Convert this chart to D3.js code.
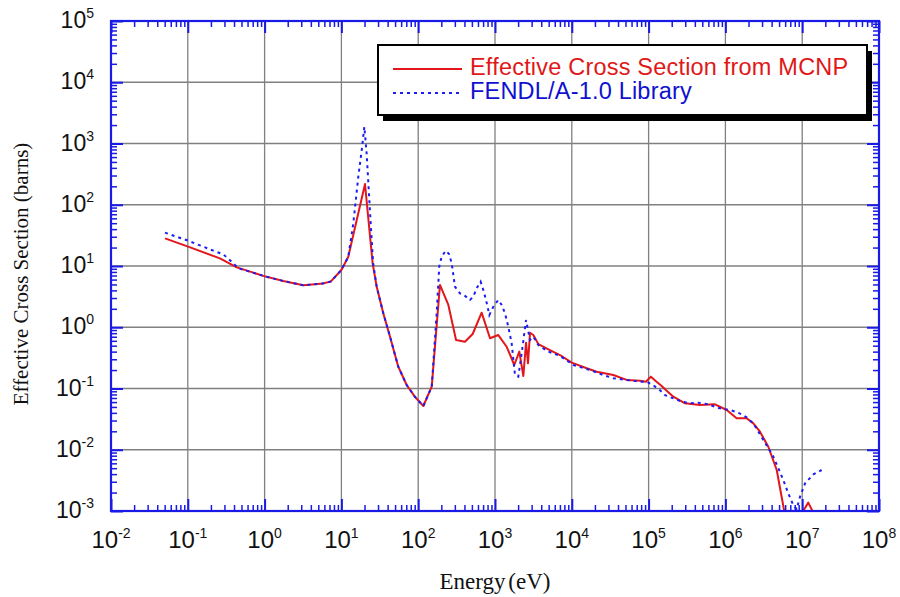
<!DOCTYPE html>
<html>
<head>
<meta charset="utf-8">
<script src="https://cdn.jsdelivr.net/npm/d3@7"></script>
<style>
  body { margin: 0; background: #fff; }
  svg { display: block; }
</style>
</head>
<body>
<svg id="chart" width="900" height="597"></svg>
<script>
// Effective cross section computed with MCNP (eV, barns)
const mcnpEnergy = [0.0505, 0.101, 0.262, 0.434, 0.96, 1.75, 3.19, 5.8, 7.3, 10, 12.3, 20.3,
  25.5, 28.8, 35.1, 43, 55, 70.8, 90.8, 116.6, 150, 192, 247, 311, 406, 512, 670, 861, 1104,
  1419, 1782, 2073, 2340, 2535, 2692, 2858, 3157, 3670, 4960, 7020, 9970, 15630, 21100,
  34700, 51800, 77300, 92000, 107000, 127000, 148000, 172000, 210000, 298000, 467000, 732000,
  1.04e6, 1.40e6, 1.89e6, 2.31e6, 2.82e6, 3.62e6, 4.66e6, 5.8e6, 6.3e6, 9.9e6, 1.03e7, 1.2e7,
  1.36e7, 1.42e7];
const mcnpSigma = [28.3, 20.7, 13.3, 9.5, 6.9, 5.7, 4.84, 5.2, 5.6, 8.6, 14.2, 218,
  11.1, 4.6, 1.69, 0.70, 0.227, 0.114, 0.073, 0.0518, 0.107, 4.9, 2.31, 0.62, 0.58, 0.776, 1.73, 0.66, 0.746,
  0.48, 0.242, 0.40, 0.16, 0.56, 0.258, 0.815, 0.746, 0.53, 0.436, 0.352, 0.264, 0.214, 0.188,
  0.166, 0.138, 0.134, 0.129, 0.156, 0.129, 0.11, 0.092, 0.0734, 0.0573, 0.0537, 0.0552,
  0.0446, 0.0326, 0.0326, 0.027, 0.0197, 0.0112, 0.00467, 0.00104, 0.0004, 0.0004, 0.001, 0.00137,
  0.001, 0.0004];

// FENDL/A-1.0 library values (eV, barns)
const fendlEnergy = [0.0505, 0.101, 0.215, 0.29, 0.372, 0.455, 0.96, 1.75, 3.19, 5.8, 7.3, 10,
  12.3, 14.3, 16.6, 18.4, 19.9, 21.3, 23.1, 24.8, 25.9, 28.8, 35.1, 43, 55, 70.8, 90.8, 116.6,
  150, 174, 188, 202, 228, 252, 273, 301, 350, 395, 472, 521, 577, 650, 704, 764, 844, 951,
  1104, 1222, 1349, 1490, 1648, 1820, 2010, 2227, 2535, 2858, 3157, 3670, 4960, 7020, 10500,
  17300, 25700, 34700, 51800, 77300, 94400, 114000, 141000, 164000, 210000, 270000, 346000,
  445000, 570000, 851000, 1.15e6, 1.47e6, 1.89e6, 2.31e6, 2.69e6, 3.12e6, 3.62e6, 4.21e6,
  4.89e6, 5.68e6, 6.59e6, 7.66e6, 8.47e6, 9.36e6, 1.09e7, 1.40e7, 1.79e7];
const fendlSigma = [35, 25.9, 17.8, 15.5, 11.7, 9.2, 6.9, 5.7, 4.84, 5.2, 5.6, 8.6,
  14.2, 50, 287, 784, 1880, 692, 120, 26.5, 11.1, 4.6, 1.69, 0.70, 0.227, 0.114, 0.073, 0.0518,
  0.107, 1.69, 9.8, 14.2, 17.8, 15.7, 11.1, 4.6, 3.57, 3.36, 2.79, 3.16, 4.33, 5.55, 4.06, 2.79, 1.58, 2.17,
  2.79, 2.31, 1.69, 1.02, 0.547, 0.166, 0.156, 0.376, 1.31, 0.62, 0.70, 0.51, 0.40, 0.34, 0.242,
  0.2, 0.166, 0.147, 0.138, 0.129, 0.129, 0.114, 0.0934, 0.078, 0.069, 0.061, 0.0573,
  0.0585, 0.0558, 0.0475, 0.0446, 0.0403, 0.0338, 0.027, 0.0197, 0.0144, 0.0106, 0.0077,
  0.00498, 0.0032, 0.00194, 0.00125, 0.00107, 0.0017, 0.00283, 0.00397, 0.00467];

const energyExponents = [-2, -1, 0, 1, 2, 3, 4, 5, 6, 7, 8];
const sigmaExponents = [-3, -2, -1, 0, 1, 2, 3, 4, 5];
const seriesNames = ["Effective Cross Section from MCNP", "FENDL/A-1.0 Library"];
const xTitle = "Energy (eV)";
const yTitle = "Effective Cross Section (barns)";

const RED = "#e3161c";
const BLUE = "#1c1cf5";
const FRAME = "#1a1ae6";

const plot = { left: 111, top: 21, right: 879, bottom: 511 };

const svg = d3.select("#chart");

const x = d3.scaleLog()
  .domain([Math.pow(10, energyExponents[0]), Math.pow(10, energyExponents[energyExponents.length - 1])])
  .range([plot.left, plot.right]);
const y = d3.scaleLog()
  .domain([Math.pow(10, sigmaExponents[0]), Math.pow(10, sigmaExponents[sigmaExponents.length - 1])])
  .range([plot.bottom, plot.top]);

const xMajor = energyExponents.map(e => Math.pow(10, e));
const yMajor = sigmaExponents.map(e => Math.pow(10, e));
const minorOf = majors => {
  const out = [];
  majors.slice(0, -1).forEach(m => { for (let k = 2; k <= 9; k++) out.push(m * k); });
  return out;
};
const xMinor = minorOf(xMajor);
const yMinor = minorOf(yMajor);

// grid
const grid = svg.append("g").attr("stroke", "#808080").attr("stroke-width", 1.3);
grid.selectAll(".gx").data(xMajor.slice(1, -1)).join("line")
  .attr("x1", d => x(d)).attr("x2", d => x(d))
  .attr("y1", plot.top).attr("y2", plot.bottom);
grid.selectAll(".gy").data(yMajor.slice(1, -1)).join("line")
  .attr("y1", d => y(d)).attr("y2", d => y(d))
  .attr("x1", plot.left).attr("x2", plot.right);

// curves, clipped to the plotting area
svg.append("clipPath").attr("id", "plotClip")
  .append("rect")
  .attr("x", plot.left).attr("y", plot.top)
  .attr("width", plot.right - plot.left).attr("height", plot.bottom - plot.top);

const line = d3.line().x(d => x(d[0])).y(d => y(d[1]));
const mcnp = mcnpEnergy.map((e, i) => [e, mcnpSigma[i]]);
const fendl = fendlEnergy.map((e, i) => [e, fendlSigma[i]]);

const curves = svg.append("g").attr("clip-path", "url(#plotClip)").attr("fill", "none");
curves.append("path").datum(mcnp)
  .attr("d", line).attr("stroke", RED).attr("stroke-width", 2)
  .attr("stroke-linejoin", "round");
curves.append("path").datum(fendl)
  .attr("d", line).attr("stroke", BLUE).attr("stroke-width", 2)
  .attr("stroke-dasharray", "3,4");

// inward ticks on all four sides
function tickAxis(axisFn, scale, values, size, transform, width) {
  const g = svg.append("g").attr("transform", transform)
    .call(axisFn(scale).tickValues(values).tickSize(-size).tickSizeOuter(0).tickFormat(""));
  g.select(".domain").remove();
  g.selectAll(".tick line").attr("stroke", FRAME).attr("stroke-width", width);
}
[[d3.axisBottom, `translate(0,${plot.bottom})`], [d3.axisTop, `translate(0,${plot.top})`]]
  .forEach(([fn, tr]) => {
    tickAxis(fn, x, xMinor, 6, tr, 1.5);
    tickAxis(fn, x, xMajor, 12, tr, 2);
  });
[[d3.axisLeft, `translate(${plot.left},0)`], [d3.axisRight, `translate(${plot.right},0)`]]
  .forEach(([fn, tr]) => {
    tickAxis(fn, y, yMinor, 6, tr, 1.5);
    tickAxis(fn, y, yMajor, 12, tr, 2);
  });

// frame
svg.append("rect")
  .attr("x", plot.left).attr("y", plot.top)
  .attr("width", plot.right - plot.left).attr("height", plot.bottom - plot.top)
  .attr("fill", "none").attr("stroke", FRAME).attr("stroke-width", 2.2);

// tick labels
const labelFont = "'Liberation Sans', Arial, sans-serif";
function powerLabel(sel, exp) {
  sel.append("tspan").text("10");
  sel.append("tspan").attr("dy", -10).attr("font-size", 14).text(String(exp));
}
svg.append("g").selectAll("text").data(energyExponents).join("text")
  .attr("x", d => x(Math.pow(10, d)))
  .attr("y", 548)
  .attr("text-anchor", "middle")
  .attr("font-family", labelFont).attr("font-size", 24).attr("fill", "#111")
  .each(function (d) { powerLabel(d3.select(this), d); });
svg.append("g").selectAll("text").data(sigmaExponents).join("text")
  .attr("x", 94)
  .attr("y", d => y(Math.pow(10, d)) + 7)
  .attr("text-anchor", "end")
  .attr("font-family", labelFont).attr("font-size", 23).attr("fill", "#111")
  .each(function (d) { powerLabel(d3.select(this), d); });

// axis titles
const titleFont = "'Liberation Serif', 'Times New Roman', serif";
svg.append("text")
  .attr("x", (plot.left + plot.right) / 2).attr("y", 589)
  .attr("text-anchor", "middle")
  .attr("font-family", titleFont).attr("font-size", 23).attr("fill", "#111")
  .attr("word-spacing", -3)
  .text(xTitle);
svg.append("text")
  .attr("transform", `translate(28,274) rotate(-90)`)
  .attr("text-anchor", "middle")
  .attr("font-family", titleFont).attr("font-size", 21).attr("fill", "#111")
  .text(yTitle);

// legend with drop shadow
const lg = { x: 378, y: 45, w: 489, h: 70 };
svg.append("rect")
  .attr("x", lg.x + 5).attr("y", lg.y + 6).attr("width", lg.w).attr("height", lg.h)
  .attr("fill", "#000");
svg.append("rect")
  .attr("x", lg.x).attr("y", lg.y).attr("width", lg.w).attr("height", lg.h)
  .attr("fill", "#fff").attr("stroke", "#000").attr("stroke-width", 2);

const legendRows = [
  { name: seriesNames[0], color: RED, textColor: "#e01818", dash: null, y: 69, base: 75 },
  { name: seriesNames[1], color: BLUE, textColor: "#1010d0", dash: "3,4", y: 93, base: 99 }
];
legendRows.forEach(r => {
  svg.append("line")
    .attr("x1", 393).attr("x2", 462).attr("y1", r.y).attr("y2", r.y)
    .attr("stroke", r.color).attr("stroke-width", 2)
    .attr("stroke-dasharray", r.dash);
  svg.append("text")
    .attr("x", 470).attr("y", r.base)
    .attr("font-family", labelFont).attr("font-size", 23.5)
    .attr("letter-spacing", 0.2)
    .attr("fill", r.textColor)
    .text(r.name);
});
</script>
</body>
</html>
